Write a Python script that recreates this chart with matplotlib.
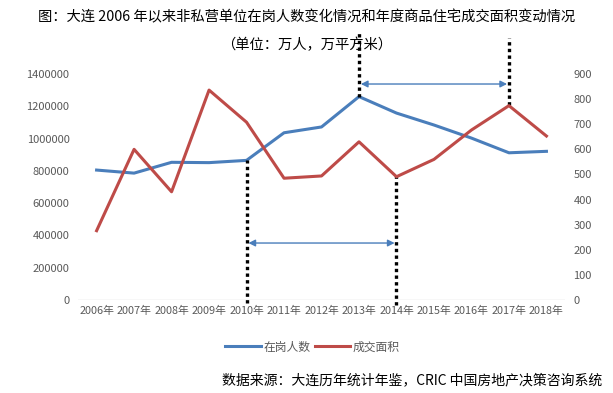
import matplotlib.pyplot as plt
from matplotlib.ticker import StrMethodFormatter

plt.rcParams['font.family'] = ['Noto Sans CJK SC', 'DejaVu Sans']

years = ['2006年', '2007年', '2008年', '2009年', '2010年', '2011年', '2012年',
         '2013年', '2014年', '2015年', '2016年', '2017年', '2018年']
# 在岗人数 (左轴)
people = [805000, 786000, 853000, 851000, 865000, 1036000, 1072000,
          1260000, 1158000, 1084000, 1003000, 912000, 921000]
# 成交面积 (右轴)
area = [276, 600, 431, 836, 708, 485, 494, 630, 491, 560, 677, 774, 653]

blue = '#4A7EBB'
red = '#BE4B48'
grey = '#595959'

fig = plt.figure(figsize=(6.13, 3.93), dpi=100)
ax = fig.add_axes([0.127, 0.2366, 0.795, 0.5751])
ax2 = ax.twinx()

x = list(range(len(years)))
l1, = ax.plot(x, people, color=blue, lw=2.2, label='在岗人数')
l2, = ax2.plot(x, area, color=red, lw=2.2, label='成交面积')

ax.set_xlim(-0.5, len(years) - 0.5)
ax.set_ylim(0, 1400000)
ax2.set_ylim(0, 900)
ax.set_yticks(range(0, 1400001, 200000))
ax2.set_yticks(range(0, 901, 100))
ax.yaxis.set_major_formatter(StrMethodFormatter('{x:.0f}'))
ax.set_xticks(x)
ax.set_xticklabels(years)

for a in (ax, ax2):
    for s in a.spines.values():
        s.set_visible(False)
    a.tick_params(length=0, labelsize=8, colors=grey, pad=6)
ax.tick_params(axis='x', pad=4, labelsize=7.8)
ax.axhline(0, color='#D9D9D9', lw=1)

# 虚线标记
dots = dict(colors='black', linestyles=(0, (1, 1)), lw=2.4, clip_on=False)
ax.vlines(4, -20000, 865000, **dots)
ax.vlines(7, 1260000, 1660000, **dots)
ax.vlines(8, -30000, 770000, **dots)
ax.vlines(11, 1210000, 1625000, **dots)

arrow = dict(arrowstyle='<|-|>', color=blue, lw=1, mutation_scale=10,
             shrinkA=0, shrinkB=0)
ax.annotate('', xy=(4.05, 353000), xytext=(7.95, 353000), arrowprops=arrow)
ax.annotate('', xy=(7.05, 1338000), xytext=(10.95, 1338000), arrowprops=arrow,
            annotation_clip=False)

fig.text(0.5, 0.957, '图：大连 2006 年以来非私营单位在岗人数变化情况和年度商品住宅成交面积变动情况',
         ha='center', va='center', fontsize=10.3)
fig.text(0.5, 0.885, '（单位：万人，万平方米）', ha='center', va='center', fontsize=10.3)

fig.legend(handles=[l1, l2], loc='center', bbox_to_anchor=(0.51, 0.117),
           ncol=2, frameon=False, fontsize=8.5, handlelength=3, columnspacing=0.4,
           handletextpad=0.2, labelcolor=grey)

fig.text(0.983, 0.033, '数据来源：大连历年统计年鉴，CRIC 中国房地产决策咨询系统',
         ha='right', va='center', fontsize=10)

fig.savefig('out.png', dpi=100)
